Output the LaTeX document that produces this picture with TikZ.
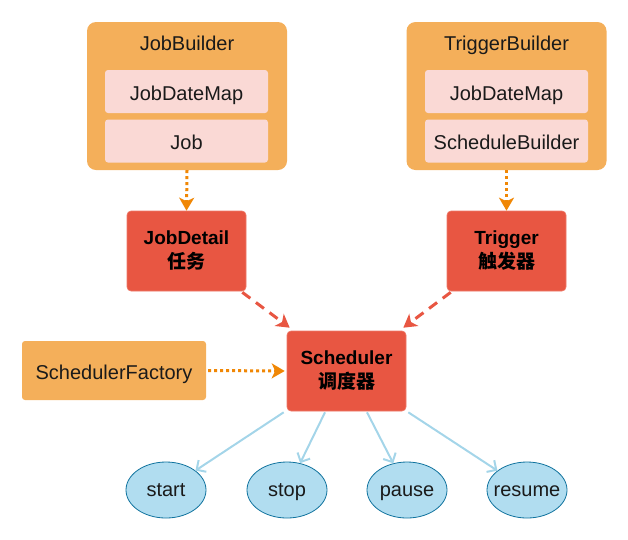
\documentclass[tikz,border=0pt]{standalone}
\usepackage{fontspec}
\setmainfont{Liberation Sans}
\newfontfamily\cjk{Noto Sans CJK SC}
\usetikzlibrary{arrows.meta,calc,shapes.geometric}
\definecolor{outerC}{HTML}{F4AF5A}
\definecolor{innerC}{HTML}{FAD9D5}
\definecolor{redC}{HTML}{E85642}
\definecolor{orgC}{HTML}{F08705}
\definecolor{blueF}{HTML}{B1DDF0}
\definecolor{blueS}{HTML}{10739E}
\definecolor{txtC}{HTML}{1A1A1A}
\tikzset{
  txt/.style={text=txtC, font=\fontsize{20}{24}\selectfont, text height=19pt, text depth=2pt},
  outerbox/.style={fill=outerC, rounded corners=9pt, minimum width=200pt, minimum height=148pt, inner sep=0pt},
  innerbox/.style={txt, fill=innerC, rounded corners=3pt, minimum width=163pt, minimum height=43pt, inner sep=0pt},
  title/.style={txt, inner sep=0pt},
  redbox/.style={fill=redC, draw=redC!80!white, line width=0.6pt, rounded corners=4pt, minimum width=119pt, minimum height=80pt, inner sep=0pt, align=center, font=\fontsize{19}{24}\selectfont\bfseries},
  sfbox/.style={txt, fill=outerC, rounded corners=3pt, minimum width=184pt, minimum height=59pt, inner sep=0pt},
  oval/.style={txt, text depth=5.6pt, ellipse, fill=blueF, draw=blueS, line width=0.8pt, minimum width=80pt, minimum height=56pt, inner sep=0pt},
  odot/.style={draw=orgC, line width=3pt, dash pattern=on 3pt off 3pt, -{Stealth[length=13pt,width=15pt,inset=3.5pt]}},
  rdash/.style={draw=redC, line width=3pt, dash pattern=on 10pt off 7pt, -{Stealth[length=13pt,width=15pt,inset=3.5pt]}},
  bline/.style={draw=blueF!92!blueS, line width=2pt, -{Straight Barb[length=7pt,width=14pt]}},
}
\begin{document}
\begin{tikzpicture}[x=1pt,y=-1pt]
\useasboundingbox (0,0) rectangle (628,539);
% builders
\node[outerbox] (jb) at (187,96) {};
\node[title] (jbt) at (187,42) {JobBuilder};
\node[innerbox] (jdm) at (186.5,91.5) {JobDateMap};
\node[innerbox] (job) at (186.5,141) {Job};
\node[outerbox] (tb) at (506.5,96) {};
\node[title] (tbt) at (506.5,42) {TriggerBuilder};
\node[innerbox] (tdm) at (506.5,91.5) {JobDateMap};
\node[innerbox] (sbd) at (506.5,141) {ScheduleBuilder};
% red boxes
\node[redbox] (jd) at (186.5,251) {JobDetail\\{\cjk\bfseries 任务}};
\node[redbox] (tr) at (506.5,251) {Trigger\\{\cjk\bfseries 触发器}};
\node[redbox] (sch) at (346.5,371) {Scheduler\\{\cjk\bfseries 调度器}};
\node[sfbox] (sf) at (114,370.5) {SchedulerFactory};
% ellipses
\node[oval] (st) at (166,490) {\makebox[0pt]{start}};
\node[oval] (sp) at (287,490) {\makebox[0pt]{stop}};
\node[oval] (pa) at (407,490) {\makebox[0pt]{pause}};
\node[oval] (re) at (527,490) {\makebox[0pt]{resume}};
% connectors
\draw[odot] (jb.south) -- (jd.north);
\draw[odot] (tb.south) -- (tr.north);
\draw[odot, shorten <=2pt, shorten >=2pt] (sf.east) -- (sch.west);
\draw[rdash] ($(jd.south east)+(-4,1)$) -- ($(sch.north west)+(3,-3)$);
\draw[rdash] ($(tr.south west)+(4,1)$) -- ($(sch.north east)+(-3,-3)$);
\draw[bline] ($(sch.south west)+(-3,1)$) -- (st);
\draw[bline] ($(sch.south)+(-21.5,1)$) -- (sp);
\draw[bline] ($(sch.south)+(20.5,1)$) -- (pa);
\draw[bline] ($(sch.south east)+(2,1)$) -- (re);
\end{tikzpicture}
\end{document}
